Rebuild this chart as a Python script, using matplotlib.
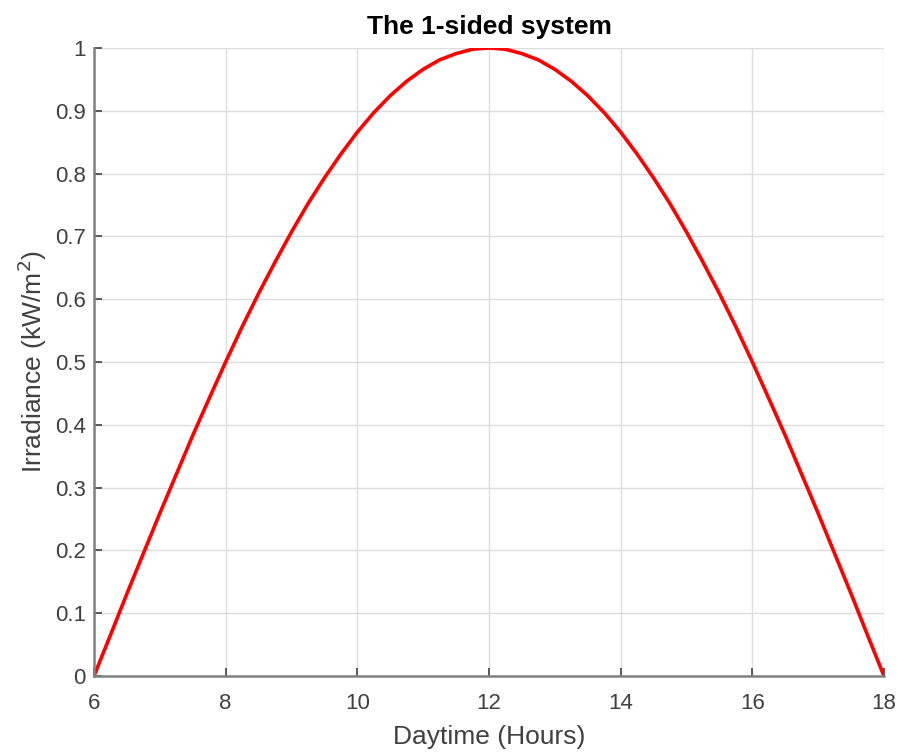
import matplotlib
matplotlib.use('Agg')
import matplotlib.pyplot as plt

# values, every quarter hour
hours = [6, 6.25, 6.5, 6.75, 7, 7.25, 7.5, 7.75, 8, 8.25, 8.5, 8.75, 9,
         9.25, 9.5, 9.75, 10, 10.25, 10.5, 10.75, 11, 11.25, 11.5, 11.75, 12,
         12.25, 12.5, 12.75, 13, 13.25, 13.5, 13.75, 14, 14.25, 14.5, 14.75, 15,
         15.25, 15.5, 15.75, 16, 16.25, 16.5, 16.75, 17, 17.25, 17.5, 17.75, 18]
irradiance = [0.0, 0.065, 0.131, 0.195, 0.259, 0.321, 0.383, 0.442, 0.5, 0.556, 0.609, 0.659, 0.707,
              0.752, 0.793, 0.831, 0.866, 0.897, 0.924, 0.947, 0.966, 0.981, 0.991, 0.998, 1.0,
              0.998, 0.991, 0.981, 0.966, 0.947, 0.924, 0.897, 0.866, 0.831, 0.793, 0.752, 0.707,
              0.659, 0.609, 0.556, 0.5, 0.442, 0.383, 0.321, 0.259, 0.195, 0.131, 0.065, 0.0]

x_ticks = [6, 8, 10, 12, 14, 16, 18]
y_ticks = [0, 0.1, 0.2, 0.3, 0.4, 0.5, 0.6, 0.7, 0.8, 0.9, 1]
y_labels = ['0', '0.1', '0.2', '0.3', '0.4', '0.5', '0.6', '0.7', '0.8', '0.9', '1']

plt.rcParams['font.family'] = ['Liberation Sans', 'DejaVu Sans']

fig = plt.figure(figsize=(9.01, 7.53), dpi=100)
ax = fig.add_axes([0.1043, 0.1023, 0.8768, 0.8340])

ax.plot(hours, irradiance, color='#ff0000', linewidth=2.6, solid_joinstyle='round')

ax.set_xlim(6, 18)
ax.set_ylim(0, 1)
ax.set_xticks(x_ticks)
ax.set_yticks(y_ticks)
ax.set_yticklabels(y_labels)
ax.tick_params(direction='in', length=6, width=1.2, color='#404040', labelcolor='#404040',
               labelsize=16)
ax.tick_params(axis='y', pad=6)
ax.tick_params(axis='x', pad=12)
ax.grid(True, color='#dcdcdc', linewidth=1.0)
ax.set_axisbelow(True)
ax.spines['top'].set_visible(False)
ax.spines['right'].set_visible(False)
for side in ['left', 'bottom']:
    ax.spines[side].set_color('#808080')
    ax.spines[side].set_linewidth(1.8)

ax.set_title('The 1-sided system', fontsize=19, fontweight='bold', color='black', pad=10)
ax.set_xlabel('Daytime (Hours)', fontsize=19, color='#404040', labelpad=8)
ax.set_ylabel('Irradiance (kW/m$^2$)', fontsize=19, color='#404040', labelpad=4)

fig.savefig('out.png', dpi=100)
